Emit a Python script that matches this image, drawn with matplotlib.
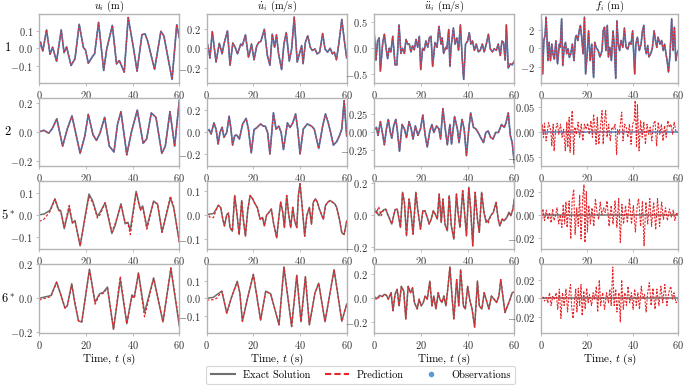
import matplotlib
matplotlib.use("Agg")
import matplotlib.pyplot as plt
from matplotlib.lines import Line2D

plt.rcParams['font.family'] = 'serif'
plt.rcParams['font.serif'] = ['cmr10']
plt.rcParams['mathtext.fontset'] = 'cm'
plt.rcParams['axes.formatter.use_mathtext'] = True
plt.rcParams['axes.unicode_minus'] = True

# ---------------- data ----------------
col_titles = [r'$u_i$ (m)', r'$\dot{u}_i$ (m/s)', r'$\ddot{u}_i$ (m/s)', r'$f_i$ (m)']
row_labels = ['1', '2', r'$5^*$', r'$6^*$']
x_ticks = [0, 20, 40, 60]

# Row 1 (floor 1, observed)
t_u1 = [0, 0.5, 1.5, 3.1, 4.6, 5.7, 7.4, 9.4, 10.6, 11.7, 13.6, 15.3, 17.1, 18.9, 19.8, 21.0, 22.9, 23.7,
        25.4, 27.6, 28.9, 31.3, 33.1, 34.3, 36.4, 38.1, 40.3, 41.9, 44.0, 45.3, 46.4, 49.4, 52.1, 53.4,
        56.9, 58.9, 60]
u1 = [0.0, 0.036, -0.016, 0.104, -0.034, 0.006, -0.074, 0.104, -0.025, 0.008, -0.098, -0.06, 0.136, 0.004,
      -0.01, -0.085, -0.045, -0.032, 0.147, -0.126, -0.004, 0.13, -0.089, -0.07, -0.136, 0.175, 0.006, -0.13,
      0.077, 0.082, 0.043, -0.12, 0.096, 0.07, -0.177, 0.134, 0.06]

t_v1 = [0, 0.8, 1.4, 2.4, 4.0, 5.4, 6.6, 7.4, 8.9, 10.0, 11.2, 12.2, 13.2, 14.6, 15.3, 16.6, 17.9, 18.5,
        19.2, 20.3, 21.4, 22.3, 23.2, 24.7, 26.0, 27.1, 28.1, 29.1, 29.9, 30.8, 32.1, 33.1, 34.1, 35.4,
        36.4, 37.5, 38.8, 39.7, 40.7, 41.3, 42.3, 43.3, 44.4, 45.3, 46.4, 47.3, 48.4, 49.7, 50.7, 51.8,
        52.9, 53.9, 54.7, 55.6, 56.6, 57.9, 59.0, 60]
v1 = [0.077, -0.007, -0.1, 0.17, -0.14, 0.05, -0.057, 0.043, 0.177, -0.173, 0.053, 0.01, -0.057, 0.043,
      0.027, 0.137, -0.09, -0.04, 0.043, -0.117, 0.02, 0.06, 0.07, 0.193, -0.073, -0.173, 0.143, 0.01,
      0.137, -0.057, -0.217, 0.043, 0.16, -0.13, -0.007, 0.317, -0.14, -0.06, 0.027, -0.157, 0.06, 0.127,
      0.01, -0.023, -0.007, -0.057, -0.04, 0.15, -0.007, -0.04, 0.0, -0.057, -0.04, -0.117, 0.043, 0.293,
      0.077, -0.1]

t_a1 = [0, 0.7, 1.4, 2.1, 2.6, 3.6, 4.3, 5.0, 5.7, 6.4, 7.1, 7.9, 8.9, 9.7, 10.6, 11.4, 12.1, 12.9, 13.6,
        14.3, 15.0, 15.7, 16.4, 17.1, 17.9, 18.6, 19.3, 19.9, 20.7, 21.4, 22.1, 22.9, 23.6, 24.3, 25.0,
        26.0, 26.9, 27.7, 28.6, 29.1, 29.7, 30.6, 31.1, 31.9, 32.4, 32.9, 33.9, 34.6, 35.4, 36.1, 36.9,
        37.7, 38.3, 39.1, 40.0, 40.7, 41.4, 42.1, 42.9, 43.7, 44.6, 45.4, 46.3, 47.1, 48.0, 48.9, 49.7,
        50.6, 51.4, 52.3, 53.1, 54.0, 54.7, 55.4, 56.1, 56.6, 57.4, 58.3, 59.1, 60]
a1 = [0.27, -0.23, 0.14, 0.2, -0.44, 0.1, 0.27, 0.02, -0.2, 0.0, -0.07, 0.23, -0.32, -0.32, 0.45, -0.1,
      0.0, -0.1, 0.17, 0.08, 0.08, -0.07, 0.05, -0.03, 0.17, 0.02, 0.23, -0.41, 0.0, -0.04, 0.14, 0.02,
      0.2, 0.23, -0.35, 0.11, 0.02, 0.42, 0.08, 0.2, -0.1, 0.02, -0.01, 0.36, -0.35, 0.02, 0.39, 0.08,
      0.2, -0.04, 0.45, -0.22, -0.6, 0.08, 0.14, 0.3, 0.08, 0.14, -0.04, 0.08, -0.07, -0.04, 0.08,
      -0.07, 0.08, 0.27, -0.01, -0.07, -0.01, -0.04, 0.08, -0.14, 0.14, 0.11, -0.23, 0.45, -0.38, -0.3,
      -0.32, -0.25]

t_f1 = [0, 0.6, 1.1, 1.7, 2.1, 2.9, 3.4, 4.0, 4.6, 5.1, 5.7, 6.4, 7.1, 7.9, 8.3, 8.9, 9.4, 10.0, 10.6,
        11.1, 11.7, 12.3, 12.9, 13.6, 14.3, 15.0, 15.4, 16.0, 16.6, 17.1, 17.7, 18.3, 18.9, 19.4, 20.0,
        20.7, 21.4, 22.1, 22.9, 23.4, 24.0, 24.9, 25.7, 26.6, 27.1, 27.7, 28.3, 28.9, 29.4, 30.0, 30.7,
        31.4, 32.0, 32.6, 33.1, 33.7, 34.3, 34.9, 35.7, 36.4, 37.1, 37.9, 38.6, 39.3, 40.0, 40.9, 41.4,
        42.1, 42.9, 43.7, 44.3, 44.9, 45.4, 46.0, 46.6, 47.1, 47.9, 48.6, 49.4, 50.0, 50.6, 51.1, 52.0,
        52.7, 53.4, 54.0, 54.6, 55.1, 55.7, 56.4, 57.1, 57.7, 58.3, 58.9, 59.4, 60]
f1 = [3.2, -2.8, 0.8, 1.5, 3.4, -1.35, 0.65, -1.35, 0.45, -0.6, -1.2, 0.8, -1.7, 0.45, 0.1, 3.2, -1.9,
      0.1, 0.65, -0.6, -0.05, -1.0, -0.6, 0.45, -1.35, 1.2, 1.4, 0.85, 1.9, 2.5, 1.2, -0.6, 3.4, -2.8,
      -0.95, 1.9, -1.35, 0.45, -3.2, 0.65, 0.1, -0.25, -0.95, -0.25, 1.9, 2.3, -0.25, 2.5, -0.95, 0.1,
      -1.35, 1.9, 0.1, -3.3, 3.0, 0.45, -0.25, 0.85, 0.1, 2.2, 0.1, -0.1, 0.65, 0.45, 1.9, -2.8, 0.45,
      1.2, -0.25, 0.45, 1.9, 2.5, 0.1, -0.6, 0.3, -0.95, -0.6, -0.05, 1.9, 0.85, 0.1, 1.2, 0.45, 0.85,
      -0.25, 0.45, -0.6, -1.35, -2.6, -0.6, 3.2, -0.25, 2.3, -1.35, -0.6, -0.25]

# Row 2 (floor 2, observed)
t_u2 = [0, 2, 4, 5.5, 7.5, 10, 12, 14, 17.5, 19.5, 21, 23, 24.5, 26, 28, 30, 32, 33.5, 35, 37.5, 39.5,
        42, 44.5, 46, 48, 50, 52.5, 54, 56, 58, 60]
u2 = [0.0, 0.01, -0.01, 0.02, 0.09, -0.1, 0.02, 0.11, -0.15, -0.03, 0.12, -0.02, -0.06, -0.01, 0.1, -0.1,
      -0.14, 0.05, 0.14, -0.16, 0.0, 0.15, -0.08, -0.05, 0.13, 0.1, -0.15, -0.1, 0.14, -0.1, 0.216]

t_v2 = [0, 1, 1.9, 3.1, 4, 4.9, 5.7, 6.6, 7.4, 8.6, 9.6, 10.4, 11.1, 12, 12.9, 14, 15.4, 16.9, 17.9, 19.1,
        20.3, 21.4, 23.1, 24.3, 25.1, 26.1, 27.1, 28.6, 29.7, 30.9, 31.9, 32.9, 34.6, 35.7, 36.9, 38.1,
        39, 40, 41.4, 43.1, 45, 46.1, 48, 49.7, 50.9, 52.1, 53.1, 54.3, 55.7, 56.9, 57.9, 58.9, 60]
v2 = [0.0, 0.02, -0.02, 0.08, 0.024, -0.11, -0.006, 0.04, -0.05, -0.006, 0.14, 0.024, -0.12, -0.035,
      -0.03, -0.065, 0.07, 0.12, 0.02, -0.19, 0.02, 0.035, 0.07, 0.05, 0.05, -0.006, -0.2, 0.17, 0.024,
      0.05, -0.006, -0.16, 0.08, 0.038, 0.08, 0.16, 0.024, -0.2, 0.024, 0.07, 0.05, 0.024, -0.15, 0.05,
      0.16, 0.08, -0.006, -0.12, -0.09, -0.035, 0.024, 0.28, -0.04]

t_a2 = [0, 0.9, 1.6, 2.6, 3.4, 4.3, 5.2, 6, 6.9, 7.5, 8.3, 9.2, 9.8, 10.8, 11.9, 12.9, 13.8, 14.9, 15.8,
        16.6, 17.6, 18.7, 19.8, 20.8, 21.8, 22.7, 23.8, 24.7, 25.5, 26.7, 27.7, 28.4, 29.4, 30.6, 31.3,
        32.4, 33.1, 34.4, 35.6, 36.3, 37.6, 38.5, 39.5, 40.5, 41.3, 42.5, 43.5, 44.5, 45.6, 46.8, 47.8,
        48.8, 49.9, 50.9, 52, 53.2, 54.5, 55.7, 56.5, 57.4, 58.3, 59.1, 60]
a2 = [0.03, 0.06, -0.05, 0.14, 0.0, -0.18, 0.04, 0.17, -0.01, -0.09, 0.08, 0.17, 0.04, -0.27, 0.1, 0.04,
      -0.08, 0.14, 0.04, -0.1, 0.08, -0.05, 0.04, 0.23, -0.05, -0.21, 0.01, 0.1, -0.01, 0.08, 0.04, -0.1,
      0.32, -0.01, -0.18, 0.1, -0.17, 0.21, 0.04, -0.15, 0.17, 0.04, -0.33, 0.04, 0.26, 0.06, 0.04, -0.01,
      -0.08, -0.15, -0.01, 0.01, -0.08, -0.1, -0.01, -0.01, 0.1, 0.06, 0.13, 0.26, -0.05, -0.15, -0.43]

t_f2 = [0, 0.42, 0.98, 1.4, 2.1, 2.8, 3.2, 4.2, 4.6, 5.2, 5.6, 6.3, 7.0, 7.7, 8.4, 9.1, 9.8, 10.5, 11.2,
        11.6, 12.2, 12.6, 13.3, 13.6, 14.2, 14.7, 15.4, 16.1, 16.8, 17.5, 18.2, 18.9, 19.6, 20.3, 21.0,
        21.7, 22.4, 22.9, 23.4, 24.0, 24.5, 25.2, 25.9, 26.6, 27.1, 27.6, 28.2, 28.8, 29.5, 30.2, 30.9,
        31.6, 32.3, 33.0, 33.4, 34.1, 34.6, 35.2, 35.8, 36.5, 37.2, 37.9, 38.6, 39.3, 40.0, 40.7, 41.1,
        41.7, 42.1, 42.8, 43.5, 44.2, 44.9, 45.6, 46.3, 47.0, 47.7, 48.4, 49.1, 49.8, 50.5, 51.2, 51.9,
        52.6, 53.3, 54.0, 54.7, 55.4, 56.1, 56.8, 57.5, 58.2, 58.9, 59.6, 60]
f2_pred = [-0.011, 0.015, -0.011, 0.017, -0.018, 0.005, 0.018, 0.002, -0.028, 0.015, -0.038, 0.005, 0.017,
           -0.005, 0.015, -0.011, 0.005, -0.038, 0.019, -0.031, 0.029, -0.041, 0.035, 0.042, -0.045,
           0.009, -0.005, 0.019, -0.011, 0.015, -0.018, 0.015, 0.005, 0.017, -0.005, 0.022, -0.011,
           0.035, 0.012, -0.025, 0.029, -0.025, 0.009, 0.042, -0.025, 0.019, 0.042, -0.011, 0.015,
           -0.018, 0.009, 0.005, 0.015, -0.045, 0.005, -0.005, 0.015, 0.039, -0.018, 0.015, 0.009,
           -0.011, 0.015, -0.025, 0.015, 0.022, 0.062, -0.031, 0.055, -0.038, 0.022, -0.011, 0.019,
           -0.025, 0.015, -0.005, 0.009, -0.018, 0.015, 0.022, -0.028, 0.019, -0.005, 0.015, -0.018,
           0.012, -0.011, 0.022, 0.009, 0.015, -0.005, 0.019, 0.002, -0.001, -0.001]

# Row 3 (5*, unobserved)
t_u5 = [0, 2, 4.6, 6.7, 8.2, 9.2, 10.7, 12.8, 14.2, 15.3, 17.5, 19.7, 21.3, 22.9, 24.9, 26.0, 28.2,
        31.1, 32.5, 35.0, 36.8, 38.0, 39.0, 41.5, 43.3, 44.3, 46.1, 49.0, 50.7, 52.6, 56.2, 57.6, 60]
u5 = [0.0, 0.003, 0.02, 0.072, 0.025, 0.018, -0.063, 0.032, -0.038, -0.026, -0.141, -0.003, 0.094, 0.062,
      -0.007, 0.01, 0.054, -0.085, -0.049, 0.05, -0.041, -0.034, -0.07, 0.106, 0.025, 0.04, -0.056,
      0.062, 0.048, -0.078, 0.076, 0.032, -0.122]
u5_pred = [-0.03, -0.02, 0.015, 0.07, 0.02, 0.015, -0.055, 0.042, -0.035, -0.028, -0.14, -0.01, 0.082,
           0.055, -0.015, 0.0, 0.055, -0.078, -0.04, 0.045, -0.035, -0.04, -0.09, 0.1, 0.02, 0.035, -0.065,
           0.06, 0.048, -0.08, 0.085, 0.035, -0.125]

t_v5 = [0, 1.4, 2.9, 4.3, 5, 6, 6.9, 7.6, 8.6, 9.3, 10, 11, 12, 12.9, 13.9, 15, 15.7, 16.6, 17.6, 18.6,
        19.7, 20.7, 21.7, 22.9, 23.9, 24.7, 25.7, 26.7, 27.7, 28.6, 30, 31, 31.7, 32.6, 33.3, 34.3, 35.1,
        36, 36.9, 37.7, 38.6, 39.3, 40, 41, 42, 42.9, 44, 44.9, 45.7, 46.6, 47.4, 48.3, 49.1, 50, 50.9,
        51.9, 52.9, 53.9, 54.9, 55.7, 56.9, 57.9, 58.9, 60]
v5 = [0.0, 0.003, 0.005, 0.027, 0.04, 0.03, -0.019, -0.047, 0.0, 0.007, -0.054, -0.069, 0.081, 0.01,
      -0.083, 0.06, -0.02, -0.09, 0.02, 0.081, 0.067, 0.046, 0.03, -0.019, -0.011, -0.047, -0.001, 0.01,
      0.024, -0.033, -0.097, -0.004, 0.053, 0.01, -0.054, 0.081, 0.003, -0.054, 0.031, -0.026, -0.054,
      0.081, 0.131, 0.024, -0.09, -0.004, 0.031, -0.04, 0.053, 0.067, 0.053, 0.024, 0.003, -0.019, 0.039,
      0.053, 0.06, 0.053, 0.046, 0.031, -0.019, -0.076, -0.083, -0.026]
v5_pred = [0.012, -0.011, -0.012] + v5[3:]

t_a5 = [0, 0.9, 1.9, 2.9, 4, 4.9, 5.7, 6.6, 7.5, 8.3, 8.9, 9.8, 10.6, 11.2, 12.1, 12.9, 13.8, 14.9,
        15.7, 16.6, 17.8, 18.6, 19.8, 20.8, 21.7, 22.7, 23.5, 24.4, 25.3, 26.1, 27, 27.8, 28.7, 29.4,
        30.3, 31.3, 32.1, 33, 34.1, 35.2, 35.9, 36.7, 37.9, 38.8, 39.5, 40.5, 41.3, 42.2, 43.2, 44.2, 45,
        46, 47, 47.9, 48.8, 49.9, 51, 52.2, 53.1, 53.8, 54.8, 55.6, 56.8, 57.7, 58.5, 59.4, 60]
a5 = [0.015, 0.025, -0.006, 0.015, 0.03, 0.035, 0.004, -0.027, -0.058, -0.006, 0.031, 0.035, -0.027,
      -0.079, 0.14, 0.077, -0.131, 0.098, 0.015, -0.121, 0.14, 0.035, -0.09, 0.025, 0.025, -0.017, -0.058,
      -0.027, 0.025, 0.004, -0.027, 0.129, -0.048, 0.098, -0.058, -0.1, 0.119, -0.069, -0.152, 0.129,
      0.015, -0.079, 0.15, -0.006, -0.131, 0.171, 0.035, -0.194, 0.14, -0.027, -0.11, 0.14, 0.015, -0.048,
      -0.038, -0.006, 0.015, 0.077, -0.027, -0.069, -0.027, -0.038, -0.017, 0.015, -0.006, 0.035, 0.098]
a5_pred = [0.046, 0.01, 0.05, -0.006] + a5[4:53] + [-0.03, -0.052] + a5[55:]

t_f5 = [0, 0.7, 1.4, 2.2, 2.9, 3.6, 4.3, 5, 5.6, 6.2, 6.9, 7.6, 8.3, 9, 9.6, 10.2, 10.8, 11.3, 12.2,
        12.9, 13.5, 14.2, 14.8, 15.5, 16.2, 16.8, 17.4, 18.1, 18.7, 19.1, 19.7, 20.2, 20.8, 21.5, 22.2,
        23, 23.7, 24.4, 25.1, 25.8, 26.5, 27.3, 28, 28.8, 29.7, 30.6, 31.4, 32.3, 33.1, 33.9, 34.6, 35.3,
        36, 36.9, 37.7, 38.6, 39.5, 40.3, 41.2, 42, 42.6, 43.5, 44.3, 45, 45.8, 46.6, 47.5, 48.3, 49.2,
        50.1, 50.9, 51.8, 52.7, 53.5, 54.4, 55.2, 56.1, 57, 57.8, 58.5, 59.3, 60]
f5_pred = [-0.007, 0.005, -0.005, 0.004, -0.004, 0.002, -0.007, 0.005, -0.005, -0.001, 0.006, -0.008, 0.0,
           -0.011, 0.009, -0.008, 0.011, -0.011, 0.012, -0.021, 0.012, 0.022, -0.017, 0.006, -0.01, 0.017,
           -0.021, 0.014, 0.026, -0.024, 0.02, -0.015, 0.008, -0.008, 0.006, -0.01, 0.014, 0.002, -0.004,
           0.011, 0.0, 0.006, 0.002, 0.012, -0.01, 0.008, -0.008, 0.012, -0.011, 0.014, -0.024, 0.009,
           -0.008, 0.008, -0.007, 0.014, -0.008, 0.008, -0.015, 0.008, 0.014, -0.01, 0.012, -0.027, 0.011,
           -0.008, 0.014, -0.01, 0.011, -0.013, 0.014, -0.01, 0.011, -0.004, 0.006, -0.005, 0.005, -0.002,
           0.004, -0.005, 0.002, -0.001]

# Row 4 (6*, unobserved)
t_u6 = [0, 5.0, 7.4, 9.0, 11.0, 12.0, 13.9, 15.3, 16.8, 18.2, 21.5, 23.9, 25.8, 27.5, 29.2, 31.8, 34.7,
        37.5, 39.7, 40.7, 42.5, 45.1, 49.0, 53.0, 56.4, 60]
u6 = [0.0, 0.016, 0.096, 0.03, -0.058, -0.044, 0.086, -0.034, -0.134, -0.14, 0.172, -0.024, 0.026, 0.036,
      0.066, -0.184, 0.11, -0.15, 0.02, 0.006, 0.15, -0.084, 0.12, -0.14, 0.176, -0.164]
u6_pred = [-0.01, 0.01, 0.094, 0.03, -0.058, -0.045, 0.078, -0.03, -0.134, -0.14, 0.168, -0.035, 0.02,
           0.03, 0.062, -0.184, 0.13, -0.15, 0.01, 0.0, 0.145, -0.11, 0.118, -0.14, 0.18, -0.15]

t_v6 = [0, 2.9, 4.3, 6.5, 8.6, 10.5, 13.1, 14.2, 15.3, 17.5, 20, 23.1, 25.3, 27.4, 31, 33.1, 36.4, 38.6,
        40.4, 42.3, 44, 46.4, 48, 50.7, 54.6, 57.9, 60]
v6 = [0.0, 0.005, 0.02, 0.04, -0.084, 0.0, 0.095, 0.03, -0.13, 0.0, 0.135, -0.124, 0.04, 0.025, -0.15,
      0.176, -0.16, 0.13, -0.133, 0.122, -0.15, 0.03, 0.085, -0.133, 0.162, -0.13, -0.033]
v6_pred = [-0.01, -0.008, 0.0] + v6[3:]

t_a6 = [0, 1.1, 2.3, 3.4, 4.3, 5.2, 6, 7.2, 8, 8.9, 9.8, 10.6, 11.6, 12.6, 13.5, 14.5, 15.5, 16.4, 17.2,
        18.4, 19.2, 20.1, 21, 21.8, 22.7, 23.8, 24.7, 25.5, 26.4, 27.4, 28.1, 29, 29.8, 30.7, 31.6, 32.4,
        33.4, 34.1, 35.3, 36.2, 37, 38.2, 39, 40, 41, 41.9, 43, 44.2, 45, 46.1, 47.1, 47.9, 49.1, 50.2,
        51.3, 52.4, 53.4, 54.2, 55.1, 56, 57.1, 58.2, 59.1, 60]
a6 = [0.014, -0.003, 0.025, 0.014, 0.033, 0.025, -0.008, 0.047, -0.105, 0.033, 0.075, -0.064, 0.1, 0.061,
      -0.174, 0.1, 0.047, 0.088, -0.036, -0.09, -0.008, -0.064, -0.036, 0.019, -0.008, 0.144, -0.064,
      0.019, -0.09, 0.047, -0.008, -0.036, 0.019, -0.064, 0.1, 0.262, -0.008, -0.174, 0.157, -0.064, 0.24,
      -0.064, -0.09, 0.1, -0.022, -0.09, -0.243, 0.144, -0.064, -0.09, 0.047, -0.008, -0.09, 0.019,
      -0.008, -0.036, 0.019, 0.157, 0.019, -0.12, -0.064, -0.008, 0.047, 0.052]
a6_pred = [0.0, -0.01, 0.015] + a6[3:]

t_f6 = [0, 0.7, 1.4, 2.2, 2.9, 3.6, 4.3, 5, 5.7, 6.5, 7.2, 7.9, 8.6, 9.3, 10, 10.8, 11.5, 12.2, 12.8,
        13.3, 13.9, 14.6, 15.1, 15.6, 16.2, 16.8, 17.4, 17.9, 18.6, 19.2, 19.9, 20.5, 21.1, 22, 22.7,
        23.4, 24.1, 24.7, 25.4, 26, 26.9, 27.7, 28.6, 29.4, 30, 30.6, 31.3, 31.9, 32.6, 33.1, 34, 34.6,
        35.2, 35.9, 36.6, 37.3, 38, 38.7, 39.5, 40.2, 40.9, 41.6, 42.3, 43, 43.8, 44.5, 45.2, 45.9, 46.6,
        47.3, 48.1, 48.9, 49.8, 50.6, 51.5, 52.4, 53.2, 54.1, 55, 55.8, 56.7, 57.4, 58.1, 59, 60]
f6_pred = [-0.001, 0.002, -0.003, 0.001, -0.005, 0.006, -0.008, 0.002, -0.001, 0.006, -0.012, 0.01, -0.022,
           0.006, -0.008, 0.01, -0.015, 0.006, 0.015, -0.01, -0.022, -0.001, 0.01, -0.015, 0.011, -0.008,
           0.015, -0.019, 0.008, -0.012, 0.011, -0.005, 0.004, -0.008, 0.006, -0.001, 0.013, -0.015, 0.02,
           -0.008, 0.006, -0.012, 0.006, -0.005, 0.01, -0.008, 0.034, -0.008, 0.01, -0.015, 0.006, -0.026,
           0.02, -0.012, 0.006, -0.008, 0.013, -0.005, 0.006, -0.012, 0.01, -0.008, 0.006, -0.012, 0.013,
           -0.001, 0.004, -0.015, 0.006, 0.017, -0.008, 0.011, -0.012, 0.01, -0.008, 0.013, -0.005, 0.015,
           -0.008, 0.006, 0.013, -0.001, 0.006, -0.005, -0.001]

y_ticks = [
    [[-0.1, 0.0, 0.1], [-0.2, 0.0, 0.2], [-0.5, 0.0, 0.5], [-2, 0, 2]],
    [[-0.2, 0.0, 0.2], [-0.2, 0.0, 0.2], [-0.25, 0.0, 0.25], [-0.05, 0.0, 0.05]],
    [[-0.1, 0.0, 0.1], [-0.1, 0.0, 0.1], [-0.2, 0.0, 0.2], [-0.02, 0.0, 0.02]],
    [[-0.2, 0.0, 0.2], [-0.1, 0.0, 0.1], [-0.2, 0.0, 0.2], [-0.02, 0.0, 0.02]],
]

# ---------------- figure ----------------
W, H = 685, 387
fig = plt.figure(figsize=(W / 100, H / 100), dpi=100)

GREY = '#6f6f6f'
RED = '#e3272b'
BLUE = '#4f7fc0'
SPINE = '#b4b4b4'

lefts = [39.3, 206.7, 374.3, 541.3]
widths = [140, 140, 140, 137]
tops = [14, 97.5, 180.5, 264]
ah = 68.5
axes = {}
ymax = {}


def make_ax(r, c):
    ax = fig.add_axes([lefts[c] / W, 1 - (tops[r] + ah) / H, widths[c] / W, ah / H])
    for s in ax.spines.values():
        s.set_color(SPINE)
        s.set_linewidth(1.0)
    ax.tick_params(labelsize=7.5, colors='#333333', length=2.5, width=0.6, pad=2, color=SPINE)
    ax.set_xlim(0, 60)
    axes[(r, c)] = ax
    return ax


def track(r, c, *series):
    ymax[(r, c)] = max(max(abs(v) for v in s) for s in series)


observed = {
    0: [(t_u1, u1), (t_v1, v1), (t_a1, a1), (t_f1, f1)],
    1: [(t_u2, u2), (t_v2, v2), (t_a2, a2)],
}

for r in range(2):
    for c in range(4):
        ax = make_ax(r, c)
        if c < 3 or r == 0:
            t, y = observed[r][c]
            ax.plot(t, y, color=GREY, lw=1.0)
            ax.plot(t, y, color=BLUE, lw=1.2, alpha=0.9)
            ax.plot(t, y, color=RED, lw=0.7, ls=(0, (2, 1.5)))
            track(r, c, y)
        else:
            ax.plot(t_f2, [0.0] * len(t_f2), color=BLUE, lw=1.1)
            ax.plot(t_f2, f2_pred, color=RED, lw=0.8, ls=(0, (2, 1.2)))
            track(r, c, f2_pred)
        if r == 0:
            ax.set_title(col_titles[c], fontsize=7.5, pad=1.0)

unobs = {
    2: [(t_u5, u5, u5_pred), (t_v5, v5, v5_pred), (t_a5, a5, a5_pred)],
    3: [(t_u6, u6, u6_pred), (t_v6, v6, v6_pred), (t_a6, a6, a6_pred)],
}
fpred = {2: (t_f5, f5_pred), 3: (t_f6, f6_pred)}
for r in (2, 3):
    for c in range(4):
        ax = make_ax(r, c)
        if c < 3:
            t, y, yp = unobs[r][c]
            ax.plot(t, y, color=GREY, lw=1.1)
            ax.plot(t, yp, color=RED, lw=0.9, ls=(0, (2, 1.5)))
            track(r, c, y, yp)
        else:
            t, yp = fpred[r]
            ax.plot(t, [0.0] * len(t), color=GREY, lw=1.1)
            ax.plot(t, yp, color=RED, lw=0.8, ls=(0, (2, 1.2)))
            track(r, c, yp)
        if r == 3:
            ax.set_xlabel(r'Time, $t$ (s)', fontsize=8, labelpad=1)

for (r, c), ax in axes.items():
    m = 1.1 * ymax[(r, c)]
    ax.set_xticks(x_ticks)
    ax.set_yticks(y_ticks[r][c])
    ax.set_ylim(-m, m)

for r in range(4):
    yc = 1 - (tops[r] + ah / 2) / H
    fig.text(8 / W, yc, row_labels[r], fontsize=9, ha='center', va='center')

handles = [Line2D([], [], color=GREY, lw=1.5),
           Line2D([], [], color=RED, lw=1.5, ls=(0, (3, 1.5))),
           Line2D([], [], color='#5b9bd5', lw=0, marker='o', ms=3)]
leg = fig.legend(handles, ['Exact Solution', 'Prediction', 'Observations'], loc='center',
                 bbox_to_anchor=(360.5 / W, 1 - 375 / H), ncol=3, fontsize=7.5, frameon=True,
                 handlelength=2.3, columnspacing=1.4, borderpad=0.45)
leg.get_frame().set_edgecolor('#cccccc')
leg.get_frame().set_linewidth(0.8)

fig.savefig('out.png', dpi=100)
